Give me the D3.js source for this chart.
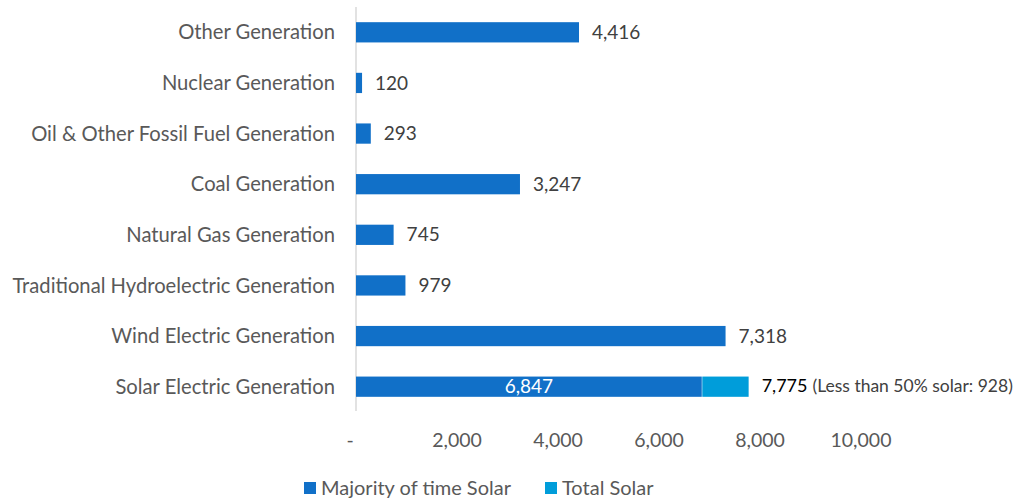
<!DOCTYPE html>
<html><head><meta charset="utf-8">
<script src="https://cdn.jsdelivr.net/npm/d3@7"></script>
<style>body{margin:0;background:#fff}svg{display:block}</style>
</head><body>
<script>
const categories = ["Other Generation","Nuclear Generation","Oil & Other Fossil Fuel Generation","Coal Generation","Natural Gas Generation","Traditional Hydroelectric Generation","Wind Electric Generation","Solar Electric Generation"];
const majorityValues = [4416,120,293,3247,745,979,7318,6847];
const totalExtra = [0,0,0,0,0,0,0,928];
const tickValues = [0,2000,4000,6000,8000,10000];
const seriesNames = ["Majority of time Solar","Total Solar"];
const colors = ["#1170C8","#009DDA"];

const W=1021,H=501;
const svg=d3.select("body").append("svg").attr("width",W).attr("height",H);
const font="Lato, 'Open Sans', sans-serif";
const x=d3.scaleLinear().domain([0,10000]).range([356,861]);
const y=d3.scaleBand().domain(categories).range([7,412]).paddingInner(0.6).paddingOuter(0.3);

svg.append("line").attr("x1",x(0)).attr("x2",x(0)).attr("y1",7).attr("y2",411).attr("stroke","#d9d9d9").attr("stroke-width",1.5);

svg.selectAll("text.cat").data(categories).enter().append("text")
 .attr("x",335).attr("y",d=>y(d)+y.bandwidth()/2).attr("dy","0.35em").attr("text-anchor","end")
 .attr("font-family",font).attr("font-size",20.2).attr("fill","#595959").text(d=>d);

const data=categories.map((c,i)=>({c,m:majorityValues[i],e:totalExtra[i]}));
svg.selectAll("rect.m").data(data).enter().append("rect")
 .attr("x",x(0)).attr("y",d=>y(d.c)).attr("width",d=>x(d.m)-x(0)).attr("height",y.bandwidth())
 .attr("fill",colors[0]);
svg.selectAll("rect.e").data(data.filter(d=>d.e>0)).enter().append("rect")
 .attr("x",d=>x(d.m)+0.5).attr("y",d=>y(d.c)).attr("width",d=>x(d.m+d.e)-x(d.m)-0.5).attr("height",y.bandwidth())
 .attr("fill",colors[1]);

const fmt=d3.format(",");
data.forEach(d=>{
  const cy=y(d.c)+y.bandwidth()/2;
  if(d.e===0){
    svg.append("text").attr("x",x(d.m)+13).attr("y",cy).attr("dy","0.35em")
     .attr("font-family",font).attr("font-size",19).attr("fill","#404040").text(fmt(d.m));
  } else {
    svg.append("text").attr("x",(x(0)+x(d.m))/2).attr("y",cy).attr("dy","0.35em").attr("text-anchor","middle")
     .attr("font-family",font).attr("font-size",19).attr("fill","#fff").text(fmt(d.m));
    const t=svg.append("text").attr("x",x(d.m+d.e)+13).attr("y",cy).attr("dy","0.35em").attr("font-family",font);
    t.append("tspan").attr("font-size",18).attr("fill","#000").text(fmt(d.m+d.e));
    t.append("tspan").attr("font-size",17.5).attr("fill","#404040").attr("dx",5).text(`(Less than 50% solar: ${fmt(d.e)})`);
  }
});

svg.selectAll("text.tick").data(tickValues).enter().append("text")
 .attr("x",d=>d===0?x(d)-6:x(d)).attr("y",440).attr("dy","0.35em").attr("text-anchor","middle")
 .attr("font-family",font).attr("font-size",19.5).attr("fill","#595959").text(d=>d===0?"-":fmt(d));

const leg=[{n:seriesNames[0],c:colors[0],x:304},{n:seriesNames[1],c:colors[1],x:545}];
leg.forEach(l=>{
  svg.append("rect").attr("x",l.x).attr("y",482).attr("width",12).attr("height",12).attr("fill",l.c);
  svg.append("text").attr("x",l.x+17).attr("y",488).attr("dy","0.35em").attr("font-family",font).attr("font-size",20).attr("fill","#595959").text(l.n);
});
</script>
</body></html>
